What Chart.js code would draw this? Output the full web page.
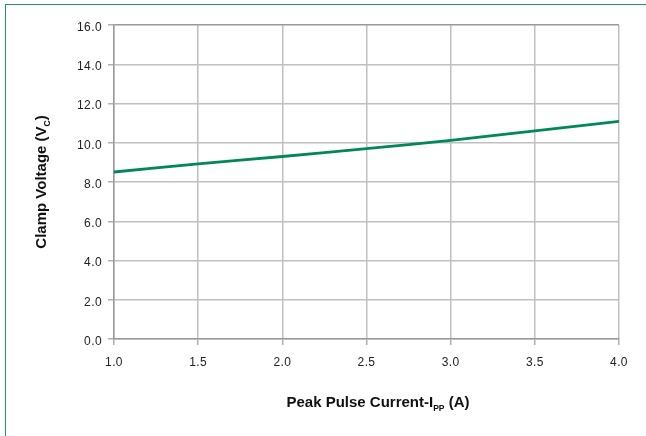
<!DOCTYPE html>
<html>
<head>
<meta charset="utf-8">
<script src="https://cdn.jsdelivr.net/npm/chart.js@4.4.0/dist/chart.umd.min.js"></script>
<style>
  html, body { margin: 0; padding: 0; background: #fff; }
  #wrap { position: relative; width: 646px; height: 436px; }
  #frame { position: absolute; left: 5px; top: 4px; right: -2px; bottom: -2px;
           border-top: 1.5px solid #1f9a66; border-left: 1.5px solid #1f9a66; pointer-events: none; }
  canvas { position: absolute; left: 0; top: 0; }
</style>
</head>
<body>
<div id="wrap">
  <canvas id="c" width="646" height="436"></canvas>
  <div id="frame"></div>
</div>
<script>
const currentA = [1.0, 1.5, 2.0, 2.5, 3.0, 3.5, 4.0];
const clampV = [8.51, 8.92, 9.30, 9.70, 10.12, 10.61, 11.09];
const yTicks = [0, 2, 4, 6, 8, 10, 12, 14, 16];
const xTicks = [1.0, 1.5, 2.0, 2.5, 3.0, 3.5, 4.0];

const points = currentA.map((x, i) => ({ x: x, y: clampV[i] }));

function drawSubText(ctx, parts, cx, cy) {
  let total = 0;
  parts.forEach(p => {
    ctx.font = 'bold ' + p.size + 'px "Liberation Sans", Arial, sans-serif';
    p.w = ctx.measureText(p.t).width;
    total += p.w;
  });
  let x = cx - total / 2;
  ctx.textBaseline = 'alphabetic';
  ctx.textAlign = 'left';
  parts.forEach(p => {
    ctx.font = 'bold ' + p.size + 'px "Liberation Sans", Arial, sans-serif';
    ctx.fillText(p.t, x, cy + (p.sub ? 3.5 : 0));
    x += p.w;
  });
}

const spacingPlugin = {
  id: 'spacing',
  beforeDraw(chart) { chart.ctx.letterSpacing = '0.4px'; },
  afterDraw(chart) { chart.ctx.letterSpacing = '0px'; }
};

const titlePlugin = {
  id: 'axisTitles',
  afterDraw(chart) {
    const ctx = chart.ctx;
    ctx.save();
    ctx.letterSpacing = '0px';
    ctx.fillStyle = '#111';
    drawSubText(ctx, [
      { t: 'Peak Pulse Current-I', size: 15 },
      { t: 'PP', size: 8.5, sub: true },
      { t: ' (A)', size: 15 }
    ], 378, 407);
    ctx.translate(46, 182);
    ctx.rotate(-Math.PI / 2);
    drawSubText(ctx, [
      { t: 'Clamp Voltage (V', size: 15 },
      { t: 'C', size: 8.5, sub: true },
      { t: ')', size: 15 }
    ], 0, 0);
    ctx.restore();
  }
};

new Chart(document.getElementById('c'), {
  type: 'line',
  data: {
    datasets: [{
      data: points,
      borderColor: '#00875a',
      borderWidth: 2.8,
      pointRadius: 0,
      tension: 0.3,
      fill: false
    }]
  },
  options: {
    responsive: false,
    animation: false,
    layout: { padding: { top: 25, right: 27, left: 0, bottom: 0 } },
    plugins: { legend: { display: false }, tooltip: { enabled: false } },
    scales: {
      x: {
        type: 'linear',
        min: 1, max: 4,
        afterBuildTicks: (s) => { s.ticks = xTicks.map(v => ({ value: v })); },
        afterFit: (s) => { s.height = 97; },
        ticks: {
          color: '#222',
          font: { family: '"Liberation Sans", Arial, sans-serif', size: 12 },
          padding: 10,
          maxRotation: 0,
          callback: (v) => Number(v).toFixed(1)
        },
        grid: { color: '#c0c0c0', lineWidth: 1.5, tickLength: 6, tickColor: '#b0b0b0' },
        border: { color: '#9a9a9a', width: 1.5 }
      },
      y: {
        min: 0, max: 16,
        afterBuildTicks: (s) => { s.ticks = yTicks.map(v => ({ value: v })); },
        afterFit: (s) => { s.width = 114; },
        ticks: {
          color: '#222',
          font: { family: '"Liberation Sans", Arial, sans-serif', size: 12 },
          padding: 6,
          labelOffset: 2.5,
          callback: (v) => Number(v).toFixed(1)
        },
        grid: {
          color: (c) => c.index === yTicks.length - 1 ? '#9a9a9a' : '#c0c0c0',
          lineWidth: 1.5, tickLength: 6, tickColor: '#b0b0b0'
        },
        border: { color: '#9a9a9a', width: 1.5 }
      }
    }
  },
  plugins: [spacingPlugin, titlePlugin]
});
</script>
</body>
</html>
